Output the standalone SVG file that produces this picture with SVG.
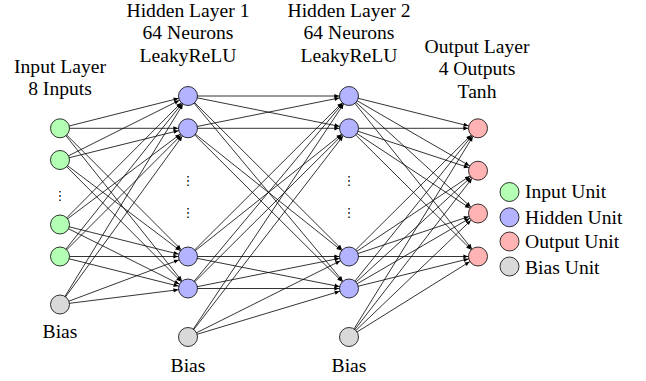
<svg xmlns="http://www.w3.org/2000/svg" width="646" height="381" viewBox="0 0 646 381">
<style>
text{font-family:"Liberation Serif","Times New Roman",serif;font-size:19.6px;fill:#000}
.t{text-anchor:middle}
.dots{font-family:"DejaVu Sans",sans-serif;font-size:13px;text-anchor:middle}
.n{stroke:#000;stroke-width:0.8}
.in{fill:#b3ffb3}
.hd{fill:#b3b3ff}
.out{fill:#ffb3b3}
.bias{fill:#d9d9d9}
#connectors line{stroke:#000;stroke-width:0.8;marker-end:url(#arr)}
</style>
<defs>
<marker id="arr" markerUnits="userSpaceOnUse" orient="auto" refX="10" refY="0" markerWidth="10" markerHeight="10" overflow="visible">
<path d="M-4.6,-2.1 L0,0 L-4.6,2.1 Z" fill="#000"/>
</marker>
</defs>
<rect width="646" height="381" fill="#fff"/>
<g id="connectors">
<line x1="60" y1="128.3" x2="188" y2="96"/>
<line x1="60" y1="128.3" x2="188" y2="128.3"/>
<line x1="60" y1="128.3" x2="188" y2="256.5"/>
<line x1="60" y1="128.3" x2="188" y2="288.5"/>
<line x1="60" y1="160" x2="188" y2="96"/>
<line x1="60" y1="160" x2="188" y2="128.3"/>
<line x1="60" y1="160" x2="188" y2="256.5"/>
<line x1="60" y1="160" x2="188" y2="288.5"/>
<line x1="60" y1="224.5" x2="188" y2="96"/>
<line x1="60" y1="224.5" x2="188" y2="128.3"/>
<line x1="60" y1="224.5" x2="188" y2="256.5"/>
<line x1="60" y1="224.5" x2="188" y2="288.5"/>
<line x1="60" y1="256.5" x2="188" y2="96"/>
<line x1="60" y1="256.5" x2="188" y2="128.3"/>
<line x1="60" y1="256.5" x2="188" y2="256.5"/>
<line x1="60" y1="256.5" x2="188" y2="288.5"/>
<line x1="60" y1="304.5" x2="188" y2="96"/>
<line x1="60" y1="304.5" x2="188" y2="128.3"/>
<line x1="60" y1="304.5" x2="188" y2="256.5"/>
<line x1="60" y1="304.5" x2="188" y2="288.5"/>
<line x1="188" y1="96" x2="349" y2="96"/>
<line x1="188" y1="96" x2="349" y2="128.3"/>
<line x1="188" y1="96" x2="349" y2="256.5"/>
<line x1="188" y1="96" x2="349" y2="288.5"/>
<line x1="188" y1="128.3" x2="349" y2="96"/>
<line x1="188" y1="128.3" x2="349" y2="128.3"/>
<line x1="188" y1="128.3" x2="349" y2="256.5"/>
<line x1="188" y1="128.3" x2="349" y2="288.5"/>
<line x1="188" y1="256.5" x2="349" y2="96"/>
<line x1="188" y1="256.5" x2="349" y2="128.3"/>
<line x1="188" y1="256.5" x2="349" y2="256.5"/>
<line x1="188" y1="256.5" x2="349" y2="288.5"/>
<line x1="188" y1="288.5" x2="349" y2="96"/>
<line x1="188" y1="288.5" x2="349" y2="128.3"/>
<line x1="188" y1="288.5" x2="349" y2="256.5"/>
<line x1="188" y1="288.5" x2="349" y2="288.5"/>
<line x1="188" y1="337" x2="349" y2="96"/>
<line x1="188" y1="337" x2="349" y2="128.3"/>
<line x1="188" y1="337" x2="349" y2="256.5"/>
<line x1="188" y1="337" x2="349" y2="288.5"/>
<line x1="349" y1="96" x2="478" y2="128.3"/>
<line x1="349" y1="96" x2="478" y2="170.7"/>
<line x1="349" y1="96" x2="478" y2="213.5"/>
<line x1="349" y1="96" x2="478" y2="256.5"/>
<line x1="349" y1="128.3" x2="478" y2="128.3"/>
<line x1="349" y1="128.3" x2="478" y2="170.7"/>
<line x1="349" y1="128.3" x2="478" y2="213.5"/>
<line x1="349" y1="128.3" x2="478" y2="256.5"/>
<line x1="349" y1="256.5" x2="478" y2="128.3"/>
<line x1="349" y1="256.5" x2="478" y2="170.7"/>
<line x1="349" y1="256.5" x2="478" y2="213.5"/>
<line x1="349" y1="256.5" x2="478" y2="256.5"/>
<line x1="349" y1="288.5" x2="478" y2="128.3"/>
<line x1="349" y1="288.5" x2="478" y2="170.7"/>
<line x1="349" y1="288.5" x2="478" y2="213.5"/>
<line x1="349" y1="288.5" x2="478" y2="256.5"/>
<line x1="349" y1="337" x2="478" y2="128.3"/>
<line x1="349" y1="337" x2="478" y2="170.7"/>
<line x1="349" y1="337" x2="478" y2="213.5"/>
<line x1="349" y1="337" x2="478" y2="256.5"/>
</g>
<g id="input-layer">
<text class="t" x="60" y="72.5">Input Layer</text>
<text class="t" x="60" y="94.5">8 Inputs</text>
<circle id="in1" class="n in" cx="60" cy="128.3" r="9.5"/>
<circle id="in2" class="n in" cx="60" cy="160" r="9.5"/>
<text class="dots" x="60" y="200">⋮</text>
<circle id="in3" class="n in" cx="60" cy="224.5" r="9.5"/>
<circle id="in4" class="n in" cx="60" cy="256.5" r="9.5"/>
</g>
<g id="input-bias">
<circle class="n bias" cx="60" cy="304.5" r="9.5"/>
<text class="t" x="60" y="338">Bias</text>
</g>
<g id="hidden-layer-1">
<text class="t" x="188" y="17.3">Hidden Layer 1</text>
<text class="t" x="188" y="39.3">64 Neurons</text>
<text class="t" x="188" y="61.5">LeakyReLU</text>
<circle id="h1a" class="n hd" cx="188" cy="96" r="9.5"/>
<circle id="h1b" class="n hd" cx="188" cy="128.3" r="9.5"/>
<text class="dots" x="188" y="184.5">⋮</text>
<text class="dots" x="188" y="216.5">⋮</text>
<circle id="h1c" class="n hd" cx="188" cy="256.5" r="9.5"/>
<circle id="h1d" class="n hd" cx="188" cy="288.5" r="9.5"/>
</g>
<g id="hidden-bias-1">
<circle class="n bias" cx="188" cy="337" r="9.5"/>
<text class="t" x="188" y="372">Bias</text>
</g>
<g id="hidden-layer-2">
<text class="t" x="349" y="17.3">Hidden Layer 2</text>
<text class="t" x="349" y="39.3">64 Neurons</text>
<text class="t" x="349" y="61.5">LeakyReLU</text>
<circle id="h2a" class="n hd" cx="349" cy="96" r="9.5"/>
<circle id="h2b" class="n hd" cx="349" cy="128.3" r="9.5"/>
<text class="dots" x="349" y="184.5">⋮</text>
<text class="dots" x="349" y="216.5">⋮</text>
<circle id="h2c" class="n hd" cx="349" cy="256.5" r="9.5"/>
<circle id="h2d" class="n hd" cx="349" cy="288.5" r="9.5"/>
</g>
<g id="hidden-bias-2">
<circle class="n bias" cx="349" cy="337" r="9.5"/>
<text class="t" x="349" y="372">Bias</text>
</g>
<g id="output-layer">
<text class="t" x="477" y="53.3">Output Layer</text>
<text class="t" x="477" y="75.3">4 Outputs</text>
<text class="t" x="477" y="97.5">Tanh</text>
<circle id="o1" class="n out" cx="478" cy="128.3" r="9.5"/>
<circle id="o2" class="n out" cx="478" cy="170.7" r="9.5"/>
<circle id="o3" class="n out" cx="478" cy="213.5" r="9.5"/>
<circle id="o4" class="n out" cx="478" cy="256.5" r="9.5"/>
</g>
<g id="legend">
<circle class="n in" cx="509.5" cy="192" r="9.5"/>
<text x="525" y="197.7">Input Unit</text>
<circle class="n hd" cx="509.5" cy="217.3" r="9.5"/>
<text x="525" y="223.5">Hidden Unit</text>
<circle class="n out" cx="509.5" cy="241.5" r="9.5"/>
<text x="525" y="248">Output Unit</text>
<circle class="n bias" cx="509.5" cy="266.5" r="9.5"/>
<text x="525" y="274">Bias Unit</text>
</g>
</svg>
